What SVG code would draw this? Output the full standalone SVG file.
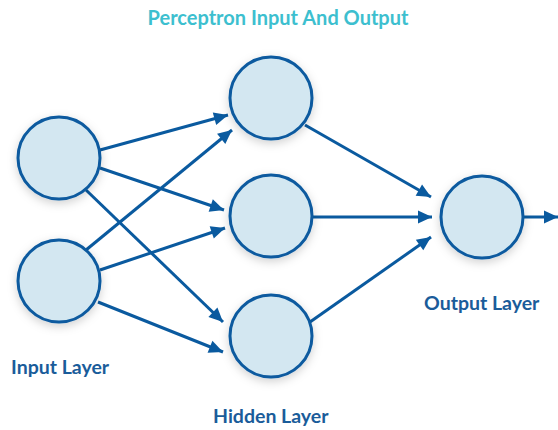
<svg xmlns="http://www.w3.org/2000/svg" width="558" height="430" viewBox="0 0 558 430">
<style>
.node{fill:#d3e7f1;stroke:#0a5a9f;stroke-width:3;filter:url(#sh)}
.edge{stroke:#0a5a9f;stroke-width:3;fill:none;marker-end:url(#ah)}
.lbl{font-family:Lato,"Liberation Sans",sans-serif;font-weight:bold;font-size:19.5px;fill:#1a5c9a}
.title{font-family:Lato,"Liberation Sans",sans-serif;font-weight:bold;font-size:20px;fill:#3dbfcf}
</style>
<defs>
<filter id="sh" x="-40%" y="-40%" width="180%" height="180%">
<feDropShadow dx="0" dy="3" stdDeviation="5" flood-color="#000" flood-opacity="0.18"/>
</filter>
<marker id="ah" markerUnits="userSpaceOnUse" markerWidth="16" markerHeight="16" viewBox="0 0 16 16" refX="15" refY="8" orient="auto">
<path d="M1,1.5 L15,8 L1,14.5 Z" fill="#0a5a9f"/>
</marker>
</defs>
<rect width="558" height="430" fill="#fff"/>
<text class="title" x="278" y="25" text-anchor="middle">Perceptron Input And Output</text>
<g id="connectors">
<line class="edge" x1="100" y1="150" x2="228" y2="115"/>
<line class="edge" x1="100" y1="168" x2="224" y2="210"/>
<line class="edge" x1="86" y1="190" x2="223" y2="322"/>
<line class="edge" x1="86" y1="250" x2="232" y2="130"/>
<line class="edge" x1="100" y1="270" x2="225" y2="228"/>
<line class="edge" x1="98" y1="302" x2="223" y2="352"/>
<line class="edge" x1="305" y1="125" x2="431" y2="197"/>
<line class="edge" x1="313" y1="217" x2="432" y2="217"/>
<line class="edge" x1="310" y1="322" x2="431" y2="237"/>
<line class="edge" x1="524" y1="217" x2="558" y2="217"/>
</g>
<g id="input1"><circle class="node" cx="59" cy="158" r="41"/></g>
<g id="input2"><circle class="node" cx="59" cy="281" r="41"/></g>
<g id="hidden1"><circle class="node" cx="271" cy="98" r="41"/></g>
<g id="hidden2"><circle class="node" cx="271" cy="216" r="41"/></g>
<g id="hidden3"><circle class="node" cx="271" cy="336" r="41"/></g>
<g id="output"><circle class="node" cx="482" cy="217" r="41"/></g>
<g id="labels">
<text class="lbl" x="11" y="374">Input Layer</text>
<text class="lbl" x="213" y="423">Hidden Layer</text>
<text class="lbl" x="424" y="310">Output Layer</text>
</g>
</svg>
